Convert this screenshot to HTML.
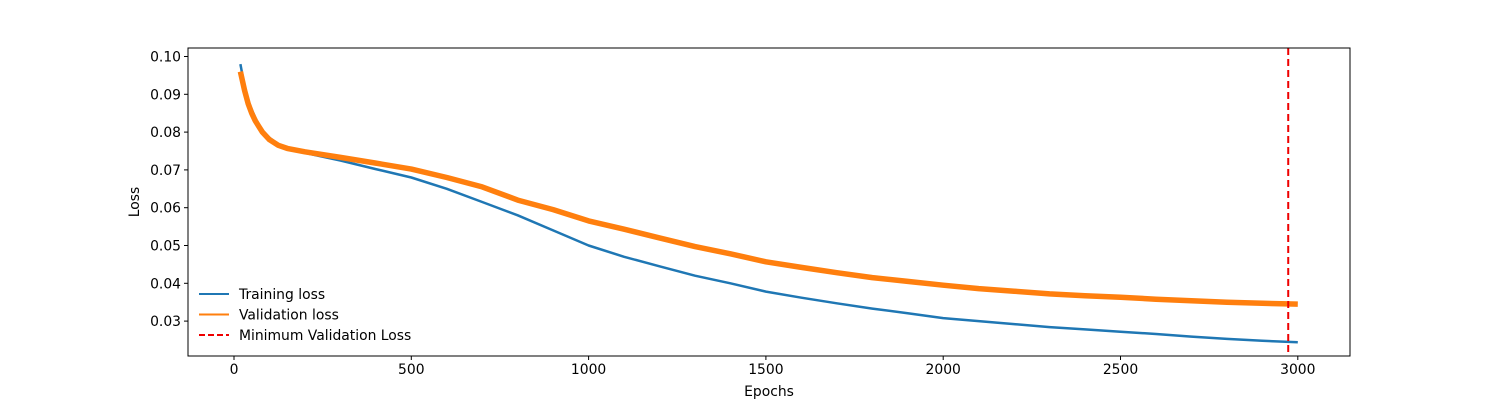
<!DOCTYPE html>
<html><head><meta charset="utf-8"><style>
body{margin:0;background:#fff;}
svg text{font-family:"DejaVu Sans","Liberation Sans",sans-serif;font-size:13.9px;fill:#000;}
</style></head><body>
<svg id="chart" width="1500" height="400" xmlns="http://www.w3.org/2000/svg"></svg>
<script>
const epochs=[18,30,40,50,60,70,80,100,125,150,200,300,400,500,600,700,800,900,1000,1100,1200,1300,1400,1500,1600,1700,1800,1900,2000,2100,2200,2300,2400,2500,2600,2700,2800,2900,3000];
const trainLoss=[0.098,0.092,0.0885,0.086,0.0838,0.082,0.0805,0.0785,0.0768,0.0758,0.0745,0.0725,0.0702,0.068,0.065,0.0615,0.058,0.054,0.050,0.047,0.0445,0.042,0.040,0.0378,0.0362,0.0347,0.0333,0.0321,0.0308,0.0300,0.0292,0.0284,0.0278,0.0272,0.0266,0.0259,0.0253,0.0248,0.0244];
const valLoss=[0.096,0.091,0.0875,0.085,0.083,0.0815,0.080,0.078,0.0765,0.0757,0.0748,0.0733,0.0718,0.0702,0.068,0.0655,0.062,0.0595,0.0565,0.0543,0.052,0.0497,0.0478,0.0457,0.0442,0.0428,0.0415,0.0405,0.0395,0.0386,0.0379,0.0372,0.0367,0.0363,0.0358,0.0354,0.035,0.0347,0.0345];
const minValEpoch=2973;
const xTicks=[0,500,1000,1500,2000,2500,3000];
const yTicks=[0.03,0.04,0.05,0.06,0.07,0.08,0.09,0.10];
const L=188,R=1350,T=48,B=356;
const x=e=>234+(e/500)*177.3;
const y=v=>56.5+(0.10-v)*3780;
const svg=document.getElementById('chart');
const NS='http://www.w3.org/2000/svg';
function mk(tag,attrs,parent){const e=document.createElementNS(NS,tag);for(const k in attrs)e.setAttribute(k,attrs[k]);(parent||svg).appendChild(e);return e;}
function path(xs,ys){return xs.map((e,i)=>(i?'L':'M')+x(e).toFixed(1)+','+y(ys[i]).toFixed(1)).join('');}
const tr=mk('path',{d:path(epochs,trainLoss),fill:'none',stroke:'#1f77b4','stroke-width':2.5,'stroke-linejoin':'round'});


const va=mk('path',{d:path(epochs,valLoss),fill:'none',stroke:'#ff7f0e','stroke-width':5.5,'stroke-linejoin':'round'});


const mv=mk('line',{x1:x(minValEpoch),x2:x(minValEpoch),y1:T,y2:B,stroke:'#e00','stroke-width':2,'stroke-dasharray':'7,4'});


const frame=mk('rect',{x:L,y:T,width:R-L,height:B-T,fill:'none',stroke:'#000','stroke-width':1});


xTicks.forEach(t=>{
  const tk=mk('line',{x1:x(t),x2:x(t),y1:B,y2:B+4,stroke:'#000'});
  
  
  const tx=mk('text',{x:x(t),y:B+18,'text-anchor':'middle'});tx.textContent=t;
  
  
});
yTicks.forEach(t=>{
  const tk=mk('line',{x1:L-4,x2:L,y1:y(t),y2:y(t),stroke:'#000'});
  
  
  const tx=mk('text',{x:L-7,y:y(t)+5,'text-anchor':'end'});tx.textContent=t.toFixed(2);
  
  
});
const xt=mk('text',{x:(L+R)/2,y:396,'text-anchor':'middle'});xt.textContent='Epochs';


const yt=mk('text',{x:0,y:0,'text-anchor':'middle',transform:'translate(139,202) rotate(-90)'});yt.textContent='Loss';


const leg=[['Training loss','#1f77b4',''],['Validation loss','#ff7f0e',''],['Minimum Validation Loss','#e00','6,3']];
leg.forEach((l,i)=>{
  const g=mk('g',{});
  
  
  const yy=294+i*20.5;
  mk('line',{x1:199,x2:229,y1:yy,y2:yy,stroke:l[1],'stroke-width':2,'stroke-dasharray':l[2]||'none'},g);
  const t=mk('text',{x:239,y:yy+5},g);t.textContent=l[0];
});
</script>
</body></html>
